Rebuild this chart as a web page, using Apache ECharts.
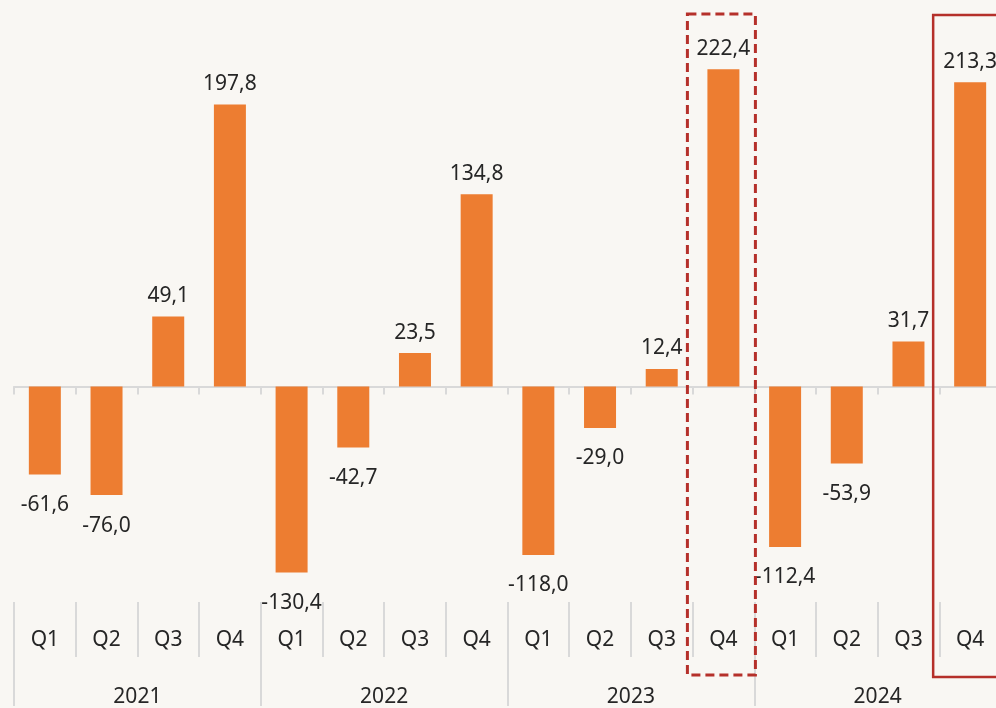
<!DOCTYPE html>
<html>
<head>
<meta charset="utf-8">
<script src="https://cdn.jsdelivr.net/npm/echarts@6/dist/echarts.min.js"></script>
<style>
  html, body { margin: 0; padding: 0; background: #f9f7f3; overflow: hidden; }
  /* 图表比窗口略宽，右侧最后一根柱子的框被裁掉 */
  #chart { width: 1001px; height: 708px; }
</style>
</head>
<body>
<div id="chart"></div>
<script>
// 数据
var quarters = ['Q1', 'Q2', 'Q3', 'Q4', 'Q1', 'Q2', 'Q3', 'Q4', 'Q1', 'Q2', 'Q3', 'Q4', 'Q1', 'Q2', 'Q3', 'Q4']
var years = ['2021', '2022', '2023', '2024']
var values = [-61.6, -76.0, 49.1, 197.8, -130.4, -42.7, 23.5, 134.8, -118.0, -29.0, 12.4, 222.4, -112.4, -53.9, 31.7, 213.3]
// 需要框出的柱子（虚线 / 实线）
var dashedIndex = 11
var solidIndex = 15

var font = '"Noto Sans", sans-serif'
var textColor = '#262626'
var gridColor = '#d9d9d9'
var red = '#b5302a'

var chart = echarts.init(document.getElementById('chart'))

var barData = values.map(function (v) {
  return {
    value: v,
    label: v < 0 ? { position: 'bottom', distance: 20 } : { position: 'top', distance: 10 }
  }
})

chart.setOption({
  backgroundColor: '#f9f7f3',
  animation: false,
  grid: {
    left: 14,
    right: 0,
    top: 30,
    bottom: 104
  },
  xAxis: [
    {
      // 零轴
      type: 'category',
      data: quarters,
      position: 'bottom',
      axisLine: { onZero: true, lineStyle: { color: gridColor, width: 2 } },
      axisTick: { show: true, length: 8, lineStyle: { color: gridColor, width: 2 } },
      axisLabel: { show: false }
    },
    {
      // 季度标签
      type: 'category',
      data: quarters,
      position: 'bottom',
      axisLine: { show: false, onZero: false },
      axisTick: { show: true, length: 55, lineStyle: { color: gridColor, width: 2 } },
      axisLabel: { margin: 28, color: textColor, fontFamily: font, fontSize: 21 }
    },
    {
      // 年份标签
      type: 'category',
      data: years,
      position: 'bottom',
      offset: 55,
      axisLine: { show: false, onZero: false },
      axisTick: { show: true, length: 49, lineStyle: { color: gridColor, width: 2 } },
      axisLabel: { margin: 30, color: textColor, fontFamily: font, fontSize: 21 }
    }
  ],
  yAxis: {
    type: 'value',
    min: -151,
    max: 250,
    show: false,
    splitLine: { show: false }
  },
  series: [{
    type: 'bar',
    xAxisIndex: 0,
    data: barData,
    barWidth: 32,
    itemStyle: { color: '#ed7d31' },
    label: {
      show: true,
      color: textColor,
      fontFamily: font,
      fontSize: 21,
      formatter: function (p) {
        return p.value.toFixed(1).replace('.', ',')
      }
    }
  }]
})

// 高亮框：位置根据坐标轴换算
var xd = chart.convertToPixel({ xAxisIndex: 0 }, dashedIndex)
var xs = chart.convertToPixel({ xAxisIndex: 0 }, solidIndex)
chart.setOption({
  graphic: [
    {
      type: 'rect',
      shape: { x: xd - 36, y: 14, width: 68, height: 661 },
      style: { fill: 'none', stroke: red, lineWidth: 3, lineDash: [9, 5] },
      z: 10
    },
    {
      type: 'rect',
      shape: { x: xs - 37, y: 15, width: 80, height: 662 },
      style: { fill: 'none', stroke: red, lineWidth: 2.5 },
      z: 10
    }
  ]
})
</script>
</body>
</html>
